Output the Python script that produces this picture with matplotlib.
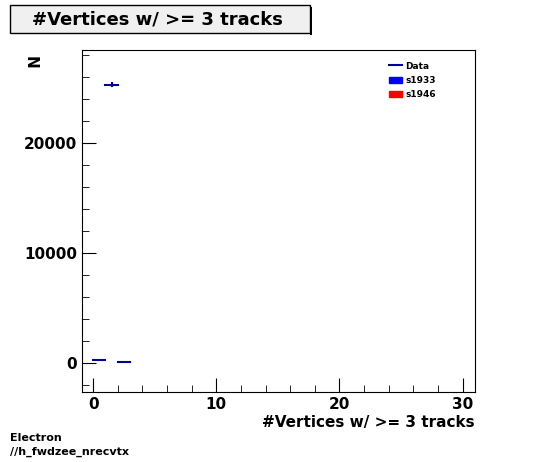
import matplotlib
matplotlib.use("Agg")
import matplotlib.pyplot as plt
from matplotlib.patches import Rectangle
from matplotlib.lines import Line2D
from matplotlib.ticker import MultipleLocator

# data: bins of #vertices
bin_lo = [0, 1, 2]
bin_hi = [1, 2, 3]
counts = [250, 25300, 60]
errs = [16, 159, 8]

fig = plt.figure(figsize=(5.46, 4.62), dpi=100)
ax = fig.add_axes([82/546, 1-392/462, (475-82)/546, (392-50)/462])
for lo, hi, c, e in zip(bin_lo, bin_hi, counts, errs):
    ax.plot([lo, hi], [c, c], color='#000099', lw=1.5)
    ax.plot([(lo+hi)/2]*2, [c-e, c+e], color='#000099', lw=1.5)

ax.set_xlim(-0.9, 31)
ax.set_ylim(-2640, 28450)
ax.xaxis.set_major_locator(MultipleLocator(10))
ax.xaxis.set_minor_locator(MultipleLocator(2))
ax.yaxis.set_major_locator(MultipleLocator(10000))
ax.yaxis.set_minor_locator(MultipleLocator(2000))
ax.tick_params(which='both', direction='in', top=False, right=False, labelsize=11)
ax.tick_params(which='major', length=10)
ax.tick_params(which='minor', length=5)
for lab in ax.get_xticklabels() + ax.get_yticklabels():
    lab.set_fontweight('bold')
ax.set_xlabel('#Vertices w/ >= 3 tracks', fontsize=11, fontweight='bold', loc='right', labelpad=2)
fig.text(30/546, 1-62/462, 'N', rotation=270, fontsize=11, fontweight='bold', ha='center', va='center')

# title box
fig.patches.append(Rectangle((10/546, 1-33/462), 300/546, 28/462, transform=fig.transFigure,
                             facecolor='#f0f0f0', edgecolor='black', lw=1))
fig.patches.append(Rectangle((310/546, 1-35/462), 2/546, 28/462, transform=fig.transFigure,
                             facecolor='black'))
fig.text(157/546, 1-19/462, '#Vertices w/ >= 3 tracks', fontsize=13, fontweight='bold', ha='center', va='center')

# legend
handles = [Line2D([], [], color='#000099', lw=1.5),
           Rectangle((0, 0), 1, 1, color='#0000ff'),
           Rectangle((0, 0), 1, 1, color='#ff0000')]
ax.legend(handles, ['Data', 's1933', 's1946'], loc='upper left', bbox_to_anchor=(0.76, 0.99),
          frameon=False, prop={'size': 6.5, 'weight': 'bold'}, handlelength=1.5, labelspacing=0.6,
          handletextpad=0.3)

fig.text(10/546, 1-438/462, 'Electron', fontsize=8, fontweight='bold', va='center')
fig.text(10/546, 1-452/462, '//h_fwdzee_nrecvtx', fontsize=8, fontweight='bold', va='center')

fig.savefig('out.png', dpi=100)
